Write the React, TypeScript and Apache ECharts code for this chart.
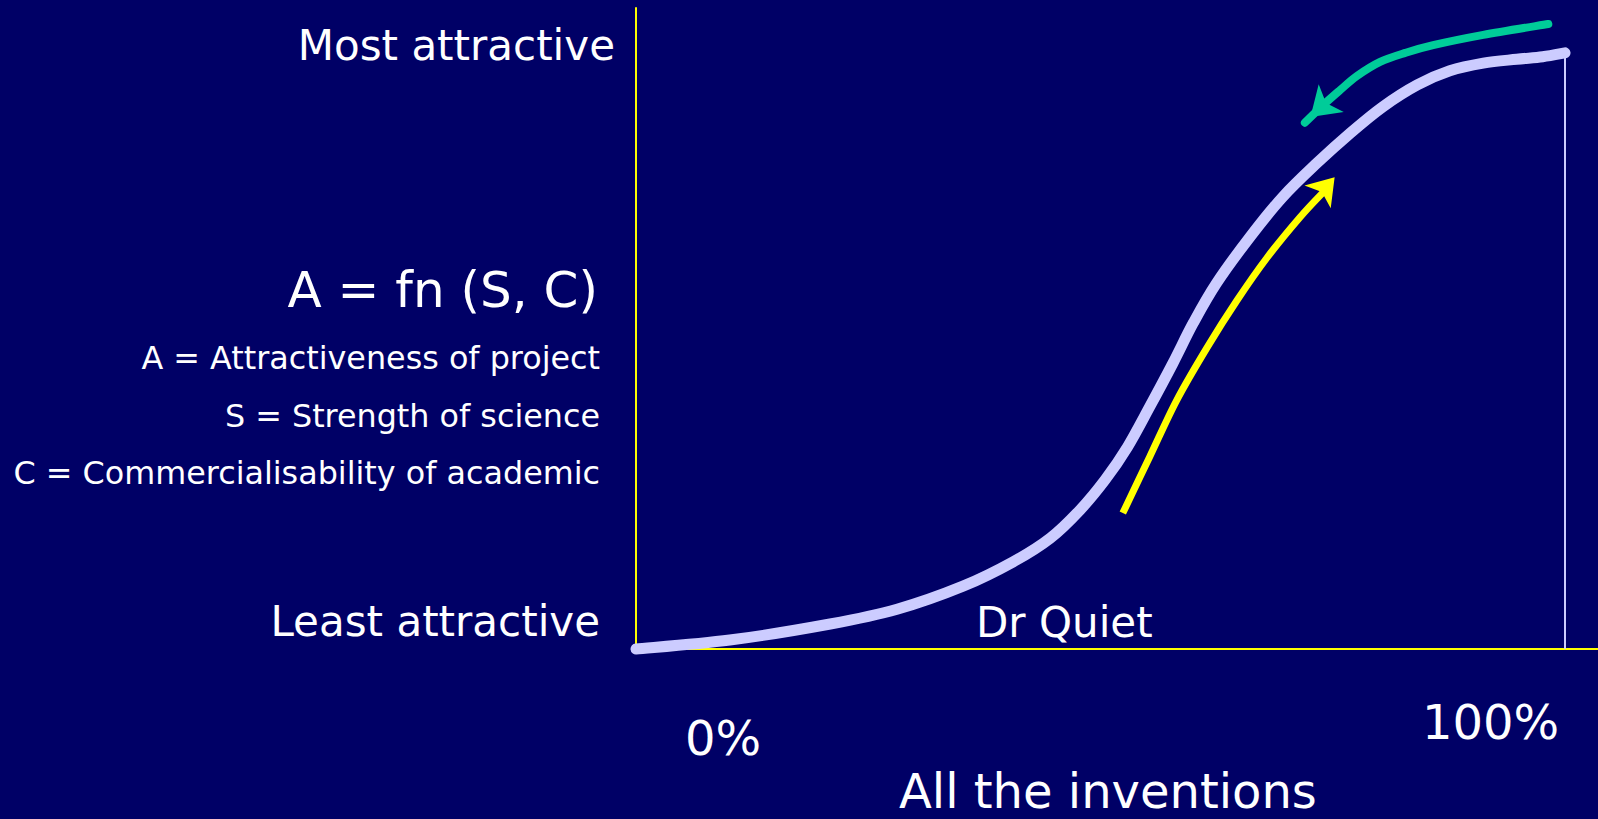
import React, { useEffect, useRef } from "react";
import * as echarts from "echarts";

// Main S-curve: x = share of all inventions (%), y = attractiveness (0 least .. 100 most)
const curveX = [0, 10.1, 20.9, 28.1, 35.2, 40.6, 44.6, 47.8, 50.5, 52.9, 55.3, 57.8, 60.0, 62.5, 66.1, 69.6, 73.3, 76.9, 80.4, 84.1, 87.6, 91.2, 94.8, 97.6, 100];
const curveY = [0, 1.4, 3.9, 6.2, 9.8, 13.6, 17.3, 21.7, 26.4, 31.5, 37.8, 44.6, 50.9, 57.1, 64.3, 70.5, 75.8, 80.5, 84.6, 88.0, 90.2, 91.4, 92.0, 92.4, 93.0];

// Yellow arrow (moving up the curve)
const yellowX = [52.4, 55.3, 58.2, 61.5, 64.7, 67.9, 71.5, 74.2];
const yellowY = [21.2, 30.0, 38.8, 47.1, 54.4, 61.0, 67.4, 71.6];
const yellowTip = [75.2, 73.6];

// Green arrow (coming back down from the top)
const greenX = [98.2, 91.2, 85.8, 82.8, 80.1, 77.6, 75.8, 74.0, 72.0];
const greenY = [97.5, 95.8, 94.2, 93.0, 91.6, 89.4, 87.2, 84.9, 82.1];
const greenHeadFrom = [75.8, 87.2];
const greenTip = [72.6, 83.0];

// Right-hand 100% marker
const fullShare = 100;

const yLabels = ["Most attractive", "Least attractive"];
const formula = "A = fn (S, C)";
const legendLines = [
  "A = Attractiveness of project",
  "S = Strength of science",
  "C = Commercialisability of academic",
];
const xTickLabels = ["0%", "100%"];
const xAxisTitle = "All the inventions";
const pointLabel = "Dr Quiet";

const zip = (xs: number[], ys: number[]) => xs.map((x, i) => [x, ys[i]]);

// Catmull-Rom spline through pixel points -> SVG path
function splinePath(pts: number[][]) {
  let d = `M${pts[0][0]},${pts[0][1]}`;
  for (let i = 0; i < pts.length - 1; i++) {
    const p0 = pts[i - 1] || pts[i];
    const p1 = pts[i];
    const p2 = pts[i + 1];
    const p3 = pts[i + 2] || p2;
    const c1x = p1[0] + (p2[0] - p0[0]) / 6;
    const c1y = p1[1] + (p2[1] - p0[1]) / 6;
    const c2x = p2[0] - (p3[0] - p1[0]) / 6;
    const c2y = p2[1] - (p3[1] - p1[1]) / 6;
    d += ` C${c1x},${c1y} ${c2x},${c2y} ${p2[0]},${p2[1]}`;
  }
  return d;
}

function splineSeries(name: string, xs: number[], ys: number[], color: string, width: number, cap: string, z: number) {
  const data = zip(xs, ys);
  return {
    type: "custom",
    name,
    coordinateSystem: "cartesian2d",
    z,
    silent: true,
    clip: false,
    encode: { x: 0, y: 1 },
    data,
    renderItem: (params: any, api: any) => {
      if (params.dataIndex !== 0) return null;
      const pts = data.map((p) => api.coord(p));
      return {
        type: "path",
        shape: { pathData: splinePath(pts) },
        style: { fill: "none", stroke: color, lineWidth: width, lineCap: cap, lineJoin: "round" },
      };
    },
  };
}

export default function App() {
  const ref = useRef<HTMLDivElement>(null);
  useEffect(() => {
    if (!ref.current) return;
    const chart = echarts.init(ref.current, undefined, { renderer: "svg" });
    const FONT = '"DejaVu Sans", Verdana, sans-serif';
    const txt = (text: string, x: number, y: number, size: number, align: string) => ({
      type: "text",
      x,
      y,
      silent: true,
      style: {
        text,
        fill: "#FFFFFF",
        font: `${size}px ${FONT}`,
        lineHeight: size,
        align,
        textAlign: align,
        verticalAlign: "middle",
        textVerticalAlign: "middle",
      },
    });
    const n = yellowX.length;
    const option: any = {
      animation: false,
      backgroundColor: "#000066",
      grid: { left: 636, top: 8, right: 0, bottom: 170, containLabel: false },
      xAxis: {
        type: "value",
        min: 0,
        max: 103.55,
        axisLine: { show: true, lineStyle: { color: "#FFFF00", width: 2 } },
        axisTick: { show: false },
        axisLabel: { show: false },
        splitLine: { show: false },
      },
      yAxis: {
        type: "value",
        min: 0,
        max: 100,
        axisLine: { show: true, lineStyle: { color: "#FFFF00", width: 2 } },
        axisTick: { show: false },
        axisLabel: { show: false },
        splitLine: { show: false },
      },
      series: [
        {
          type: "lines",
          name: "100% marker",
          coordinateSystem: "cartesian2d",
          z: 3,
          symbol: "none",
          lineStyle: { color: "#CCCCFF", width: 2, opacity: 1 },
          data: [{ coords: [[fullShare, 0], [fullShare, curveY[curveY.length - 1]]] }],
        },
        splineSeries("Attractiveness", curveX, curveY, "#CCCCFF", 11, "round", 4),
        splineSeries("Up", yellowX, yellowY, "#FFFF00", 7, "butt", 5),
        {
          type: "lines",
          coordinateSystem: "cartesian2d",
          z: 5,
          symbol: ["none", "arrow"],
          symbolSize: 26,
          lineStyle: { color: "#FFFF00", width: 0, opacity: 1 },
          data: [{ coords: [[yellowX[n - 2], yellowY[n - 2]], yellowTip] }],
        },
        splineSeries("Down", greenX, greenY, "#00CC99", 8, "round", 5),
        {
          type: "lines",
          coordinateSystem: "cartesian2d",
          z: 5,
          symbol: ["none", "arrow"],
          symbolSize: 28,
          lineStyle: { color: "#00CC99", width: 0, opacity: 1 },
          data: [{ coords: [greenHeadFrom, greenTip] }],
        },
      ],
      graphic: [
        txt(yLabels[0], 615, 45, 42, "right"),
        txt(formula, 598, 290, 50, "right"),
        txt(legendLines[0], 600, 357, 31.8, "right"),
        txt(legendLines[1], 600, 415, 31.8, "right"),
        txt(legendLines[2], 600, 472, 31.8, "right"),
        txt(yLabels[1], 600, 621, 42, "right"),
        txt(pointLabel, 976, 622, 42, "left"),
        txt(xTickLabels[0], 685, 738, 48, "left"),
        txt(xTickLabels[1], 1422, 722, 48, "left"),
        txt(xAxisTitle, 899, 791, 48, "left"),
      ],
    };
    chart.setOption(option);
    return () => chart.dispose();
  }, []);
  return (
    <div
      ref={ref}
      style={{ position: "fixed", left: 0, top: 0, width: 1598, height: 819, background: "#000066" }}
    />
  );
}
